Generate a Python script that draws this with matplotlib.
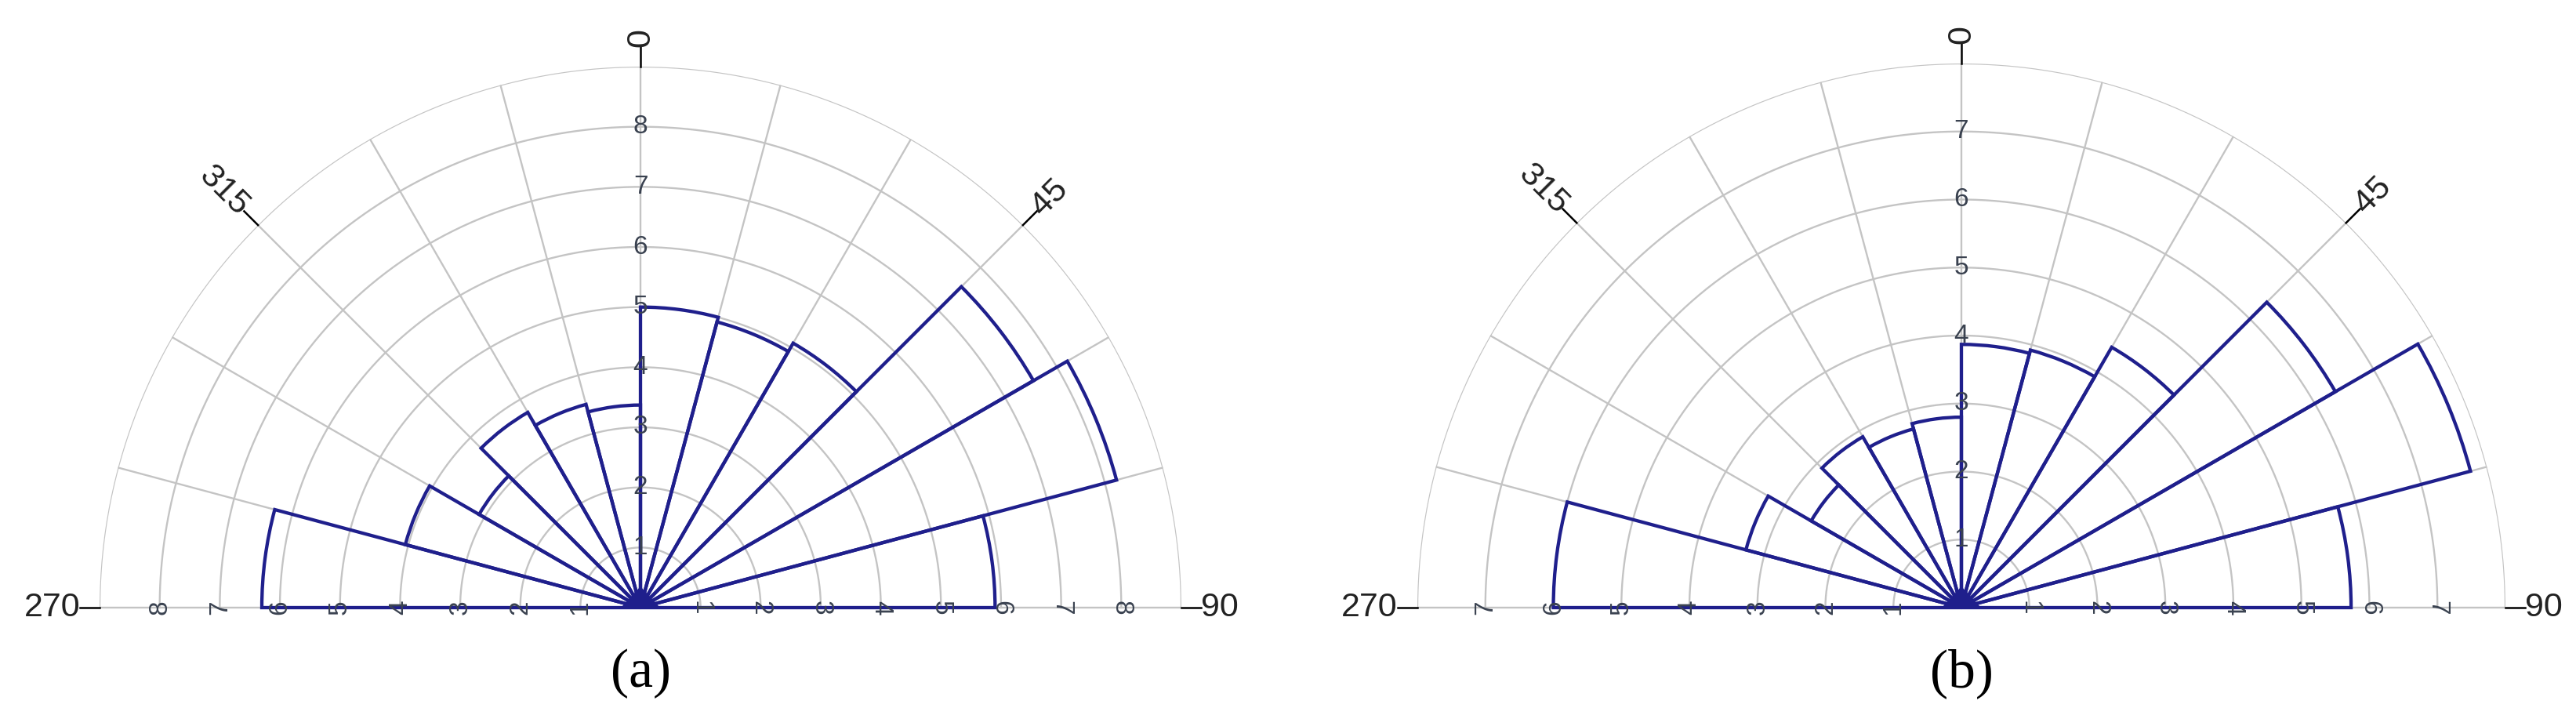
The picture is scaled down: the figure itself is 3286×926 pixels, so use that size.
import numpy as np
import matplotlib.pyplot as plt
import matplotlib
from matplotlib.patches import Polygon

matplotlib.rcParams['font.family'] = ['Liberation Sans', 'DejaVu Sans']

# 방위 구간 (도), 15도 간격
bin_edges = [-90, -75, -60, -45, -30, -15, 0, 15, 30, 45, 60, 75, 90]

# (a), (b) 각 구간 값
a_values = [6.3, 4.05, 3.1, 3.75, 3.5, 3.37, 5.0, 4.92, 5.08, 7.55, 8.2, 5.9]
b_values = [6.0, 3.28, 2.55, 2.9, 2.72, 2.8, 3.87, 3.92, 4.42, 6.35, 7.75, 5.73]
a_rmax = 9
b_rmax = 8

angle_ticks = [0, 45, -45, -90, 90]
angle_labels = ['0', '45', '315', '270', '90']
captions = ['(a)', '(b)']

navy = '#1f1f8c'
gray = '#c4c4c4'

W, H = 3286, 926
fig = plt.figure(figsize=(W / 100, H / 100), dpi=100)


def rose(cx, cy, R, values, rmax, caption):
    # 전체 원 크기의 극좌표 축 (위쪽 반원만 그림)
    ax = fig.add_axes([(cx - R) / W, (H - cy - R) / H, 2 * R / W, 2 * R / H],
                      projection='polar')
    ax.set_theta_zero_location('N')
    ax.set_theta_direction(-1)
    ax.set_ylim(0, rmax)
    ax.set_axis_off()

    # 격자
    arc = np.linspace(-np.pi / 2, np.pi / 2, 400)
    for k in range(1, rmax + 1):
        ax.plot(arc, np.full_like(arc, k), color=gray, linewidth=1.7, zorder=1)
    for ang in range(-90, 91, 15):
        th = np.deg2rad(ang)
        ax.plot([th, th], [0, rmax], color=gray, linewidth=1.7, zorder=1)

    edges = np.array(bin_edges)
    centers = np.deg2rad((edges[:-1] + edges[1:]) / 2)
    width = np.deg2rad(edges[1] - edges[0])
    ax.bar(centers, values, width=width, bottom=0, fill=False,
           edgecolor=navy, linewidth=3.1, zorder=3)

    # 중심의 작은 삼각형 (figure 좌표)
    hw = 24 / W
    ht = 26 / H
    x0 = cx / W
    y0 = (H - cy) / H
    fig.add_artist(Polygon([(x0 - hw, y0), (x0 + hw, y0), (x0, y0 + ht)],
                           closed=True, transform=fig.transFigure,
                           facecolor=navy, edgecolor=navy, zorder=10))

    # 바깥 눈금선과 각도 라벨
    tl = 25 / R * rmax
    r0 = rmax + tl
    for ang, lab in zip(angle_ticks, angle_labels):
        th = np.deg2rad(ang)
        ax.plot([th, th], [rmax, r0], color='black', linewidth=1.8, clip_on=False)
        if ang == 0:
            kw = dict(rotation=90, ha='left')
        elif ang == 45:
            kw = dict(rotation=45, ha='left')
        elif ang == -45:
            kw = dict(rotation=-45, ha='right')
        elif ang == -90:
            kw = dict(rotation=0, ha='right')
        else:
            kw = dict(rotation=0, ha='left')
        ax.text(th, r0, lab, va='center', rotation_mode='anchor', fontsize=31,
                color='#222222', clip_on=False, **kw)

    # 반지름 라벨
    for k in range(1, rmax):
        ax.text(0, k, str(k), ha='center', va='center', fontsize=24,
                color='#3a4250', zorder=5)
        ax.text(np.deg2rad(90), k, str(k), ha='center', va='center', rotation=-90,
                fontsize=24, color='#3a4250', zorder=5)
        ax.text(np.deg2rad(-90), k, str(k), ha='center', va='center', rotation=90,
                fontsize=24, color='#3a4250', zorder=5)

    fig.text(cx / W, 1 - 859 / H, caption, ha='center', va='center', fontsize=50,
             family='Liberation Serif')
    return ax


rose(817, 775, 690, a_values, a_rmax, captions[0])
rose(2502, 775, 694, b_values, b_rmax, captions[1])

fig.savefig('out.png', dpi=100, facecolor='white')
